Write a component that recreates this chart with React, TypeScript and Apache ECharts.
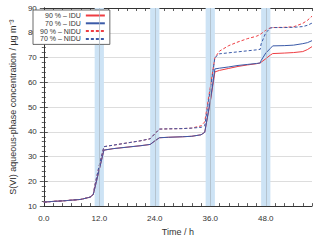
import React, { useEffect, useRef } from "react";
import * as echarts from "echarts";

const hours = [0, 2, 4, 6, 8, 10, 10.7, 11, 12, 13, 15, 18, 21, 23, 24, 25, 27, 30, 32, 34, 34.8, 36, 37, 38, 40, 42, 44, 46, 46.8, 47, 48, 49, 49.5, 52, 54, 56, 57, 58];

const idu90 = [11.6, 11.9, 12.1, 12.4, 12.7, 13.6, 14.7, 17.0, 24.8, 32.6, 33.2, 33.8, 34.4, 34.9, 36.3, 37.6, 37.8, 38.0, 38.2, 38.8, 39.8, 52.0, 64.2, 64.8, 65.6, 66.4, 67.0, 67.5, 67.8, 68.1, 69.5, 71.0, 71.6, 71.8, 72.0, 72.4, 73.2, 74.4];
const idu70 = [11.6, 11.9, 12.1, 12.4, 12.7, 13.6, 14.7, 17.0, 24.8, 32.6, 33.2, 33.8, 34.4, 34.9, 36.3, 37.6, 37.8, 38.0, 38.2, 38.8, 39.8, 52.5, 65.4, 65.7, 66.2, 66.8, 67.2, 67.6, 67.8, 68.8, 71.8, 73.7, 74.7, 74.8, 75.0, 75.6, 76.0, 76.8];
const nidu90 = [11.6, 11.9, 12.1, 12.4, 12.7, 13.6, 14.7, 18.0, 26.5, 34.0, 34.6, 35.5, 36.4, 37.2, 39.2, 41.1, 41.2, 41.3, 41.5, 42.4, 44.0, 58.0, 70.0, 72.6, 74.8, 76.3, 77.6, 78.6, 79.3, 79.6, 81.0, 82.0, 82.1, 82.2, 82.4, 83.8, 85.0, 86.7];
const nidu70 = [11.6, 11.9, 12.1, 12.4, 12.7, 13.6, 14.7, 18.0, 26.5, 34.0, 34.6, 35.5, 36.4, 37.2, 39.2, 41.1, 41.2, 41.3, 41.5, 41.8, 42.5, 57.0, 70.0, 71.5, 71.9, 72.3, 72.7, 73.1, 73.3, 75.5, 80.0, 81.9, 82.1, 82.1, 82.2, 82.5, 83.0, 83.9];

const seriesNames = ["90 % – IDU", "70 % – IDU", "90 % – NIDU", "70 % – NIDU"];
const bandRanges: [number, number][] = [[11, 13], [23, 25], [35, 37], [47, 49]];
const majorHours = [12, 24, 36, 48];

const RED = "#ee3d42";
const BLUE = "#3a5aa8";
const TXT = "#333";

export default function App() {
  const ref = useRef<HTMLDivElement>(null);
  useEffect(() => {
    if (!ref.current) return;
    const chart = echarts.init(ref.current, undefined, { renderer: "svg" });
    const pts = (v: number[]) => hours.map((h, i) => [h, v[i]]);
    const mk = (name: string, v: number[], color: string, dashed: boolean, extra: any = {}) => ({
      name,
      type: "line",
      data: pts(v),
      symbol: "none",
      color,
      lineStyle: { color, width: 1, type: dashed ? [3, 2] : "solid" },
      ...extra,
    });
    const xCommon = {
      type: "value",
      min: 0,
      max: 58,
      interval: 2,
      axisLine: { show: true, lineStyle: { color: TXT, width: 1 } },
      axisTick: { show: true, inside: true, length: 3, lineStyle: { color: TXT, width: 0.8 } },
      splitLine: { show: false },
    };
    const yCommon = {
      type: "value",
      min: 10,
      max: 90,
      interval: 10,
      axisLine: { show: true, lineStyle: { color: TXT, width: 1 } },
      axisTick: { show: true, inside: true, length: 4, lineStyle: { color: TXT, width: 0.8 } },
      minorTick: { show: true, splitNumber: 5, length: 2, lineStyle: { color: TXT, width: 0.8 } },
    };
    chart.setOption({
      animation: false,
      backgroundColor: "#fff",
      textStyle: { fontFamily: "Liberation Sans" },
      grid: { left: 29, right: 8, top: 8, bottom: 28, containLabel: false },
      legend: {
        orient: "vertical",
        left: 33,
        top: 10,
        align: "right",
        itemWidth: 19,
        itemHeight: 6,
        itemGap: 0.8,
        padding: [2, 4, 2, 7],
        borderColor: "#444",
        borderWidth: 0.8,
        backgroundColor: "#fff",
        itemStyle: { opacity: 0 },
        textStyle: { fontSize: 7, lineHeight: 6.6, color: TXT },
        data: seriesNames,
      },
      xAxis: [
        {
          ...xCommon,
          position: "bottom",
          name: "Time / h",
          nameLocation: "middle",
          nameGap: 17,
          nameTextStyle: { fontSize: 9, color: TXT },
          axisLabel: {
            fontSize: 8,
            color: TXT,
            margin: 8,
            formatter: (v: number) => (v % 12 === 0 ? v.toFixed(1) : ""),
          },
        },
        { ...xCommon, position: "top", axisLabel: { show: false } },
      ],
      yAxis: [
        {
          ...yCommon,
          position: "left",
          name: "S(VI) aqueous-phase concentration / µg m⁻³",
          nameLocation: "middle",
          nameGap: 16,
          nameTextStyle: { fontSize: 9, color: TXT },
          axisLabel: { fontSize: 8, color: TXT, margin: 7 },
          splitLine: { show: true, lineStyle: { color: "#cfcfcf", width: 0.7 } },
        },
        { ...yCommon, position: "right", axisLabel: { show: false }, splitLine: { show: false } },
      ],
      series: [
        mk(seriesNames[0], idu90, RED, false, {
          markArea: {
            silent: true,
            itemStyle: { color: "#cde3f5" },
            data: bandRanges.map(([a, b]) => [{ xAxis: a }, { xAxis: b }]),
          },
          markLine: {
            silent: true,
            symbol: ["none", "none"],
            label: { show: false },
            lineStyle: { color: "#a9b4bf", width: 0.7, type: "solid" },
            data: majorHours.map((h) => ({ xAxis: h })),
          },
        }),
        mk(seriesNames[1], idu70, BLUE, false),
        mk(seriesNames[2], nidu90, RED, true),
        mk(seriesNames[3], nidu70, BLUE, true),
      ],
    });
    return () => chart.dispose();
  }, []);
  return <div ref={ref} style={{ position: "absolute", left: 0, top: 0, width: 320, height: 241 }} />;
}
